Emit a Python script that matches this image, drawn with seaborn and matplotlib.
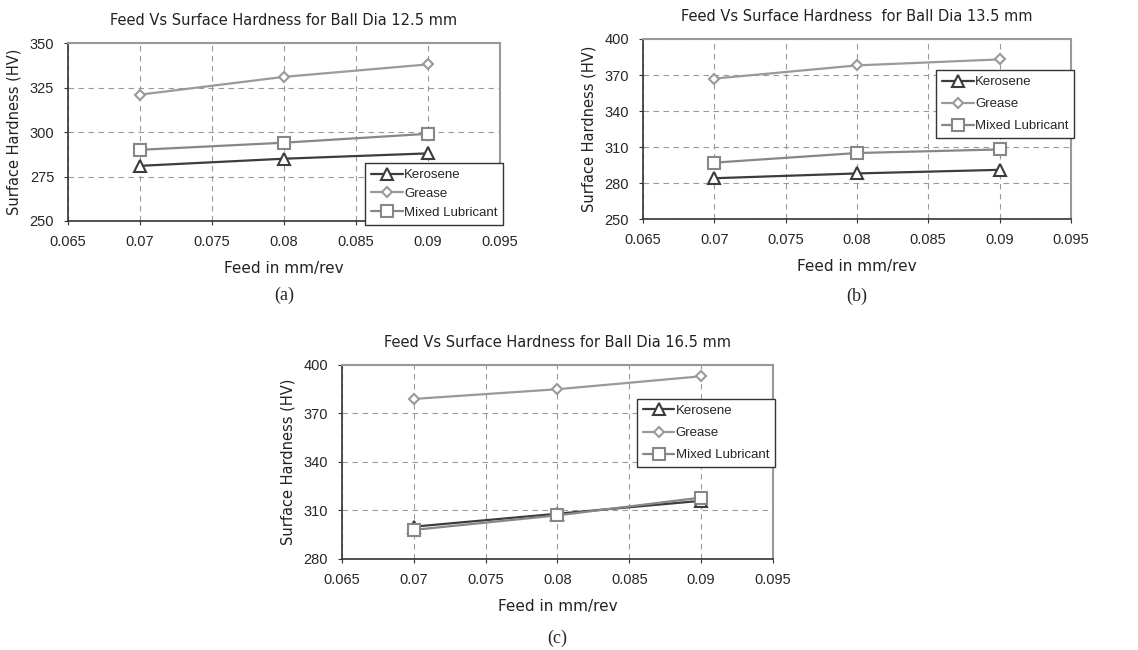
import matplotlib
matplotlib.use("Agg")
import matplotlib.pyplot as plt
import seaborn as sns
import pandas as pd

feed = [0.07, 0.08, 0.09]
series_names = ["Kerosene", "Grease", "Mixed Lubricant"]

# Panel (a) Ball Dia 12.5 mm
a_kerosene = [281, 285, 288]
a_grease = [321, 331, 338]
a_mixed = [290, 294, 299]
# Panel (b) Ball Dia 13.5 mm
b_kerosene = [284, 288, 291]
b_grease = [367, 378, 383]
b_mixed = [297, 305, 308]
# Panel (c) Ball Dia 16.5 mm
c_kerosene = [300, 308, 316]
c_grease = [379, 385, 393]
c_mixed = [298, 307, 318]

titles = ["Feed Vs Surface Hardness for Ball Dia 12.5 mm",
          "Feed Vs Surface Hardness  for Ball Dia 13.5 mm",
          "Feed Vs Surface Hardness for Ball Dia 16.5 mm"]
panel_tags = ["(a)", "(b)", "(c)"]
xticks = [0.065, 0.07, 0.075, 0.08, 0.085, 0.09, 0.095]
xticklabels = ["0.065", "0.07", "0.075", "0.08", "0.085", "0.09", "0.095"]
yticks_a = [250, 275, 300, 325, 350]
yticks_b = [250, 280, 310, 340, 370, 400]
yticks_c = [280, 310, 340, 370, 400]

sns.set_style("white")
plt.rcParams['font.family'] = ['DejaVu Sans']

colors = {"Kerosene": "#3c3c3c", "Grease": "#9a9a9a", "Mixed Lubricant": "#878787"}
markers = {"Kerosene": "^", "Grease": "D", "Mixed Lubricant": "s"}
msizes = {"Kerosene": 8, "Grease": 5.5, "Mixed Lubricant": 8}

fig = plt.figure(figsize=(11.38, 6.5), dpi=100)

panels = [
    ([a_kerosene, a_grease, a_mixed], [0.0598, 0.660, 0.3796, 0.2738], yticks_a, (0.6875, 0.326), -0.416, 0.5),
    ([b_kerosene, b_grease, b_mixed], [0.565, 0.663, 0.376, 0.277], yticks_b, (0.685, 0.828), -0.43, 0.75),
    ([c_kerosene, c_grease, c_mixed], [0.3005, 0.140, 0.3787, 0.2985], yticks_c, (0.684, 0.825), -0.407, 0.75),
]

for i, (vals, pos, yticks, legpos, tagy, lsp) in enumerate(panels):
    ax = fig.add_axes(pos)
    rows = []
    for name, v in zip(series_names, vals):
        for f, h in zip(feed, v):
            rows.append({"Feed": f, "Hardness": h, "Series": name})
    df = pd.DataFrame(rows)
    for name in series_names:
        sub = df[df["Series"] == name]
        sns.lineplot(data=sub, x="Feed", y="Hardness", ax=ax, color=colors[name],
                     marker=markers[name], markersize=msizes[name],
                     markerfacecolor="white", markeredgecolor=colors[name],
                     markeredgewidth=1.5, linewidth=1.6, label=name)
    ax.set_xlim(0.065, 0.095)
    ax.set_ylim(yticks[0], yticks[-1])
    ax.set_xticks(xticks)
    ax.set_xticklabels(xticklabels, fontsize=10.5, family="Liberation Sans")
    ax.set_yticks(yticks)
    ax.set_yticklabels([str(t) for t in yticks], fontsize=10.5, family="Liberation Sans")
    ax.grid(True, color="#9a9a9a", linestyle=(0, (5, 4)), linewidth=0.8)
    ax.set_axisbelow(True)
    ax.tick_params(axis="both", length=3, direction="out", color="#333333", pad=7)
    ax.tick_params(axis="x", bottom=True)
    ax.tick_params(axis="y", left=True)
    for s in ["left", "bottom"]:
        ax.spines[s].set_color("#333333")
        ax.spines[s].set_linewidth(1.2)
    for s in ["top", "right"]:
        ax.spines[s].set_color("#999999")
        ax.spines[s].set_linewidth(1.5)
    ax.set_title(titles[i], fontsize=10.5, pad=13, color="#222222")
    ax.set_xlabel("Feed in mm/rev", fontsize=11, labelpad=9, color="#222222")
    ax.set_ylabel("Surface Hardness (HV)", fontsize=10.5, labelpad=6, color="#222222")
    leg = ax.legend(loc="upper left", bbox_to_anchor=legpos, frameon=True, fancybox=False,
                    prop={"family": "Liberation Sans", "size": 9.5}, handlelength=2.4,
                    handletextpad=0.1, borderpad=0.45, labelspacing=lsp,
                    edgecolor="#333333", framealpha=1, borderaxespad=0)
    leg.get_frame().set_linewidth(1.0)
    ax.text(0.5, tagy, panel_tags[i], transform=ax.transAxes,
            ha="center", va="center", fontsize=13, family="Liberation Serif")

fig.savefig("out.png", dpi=100)
